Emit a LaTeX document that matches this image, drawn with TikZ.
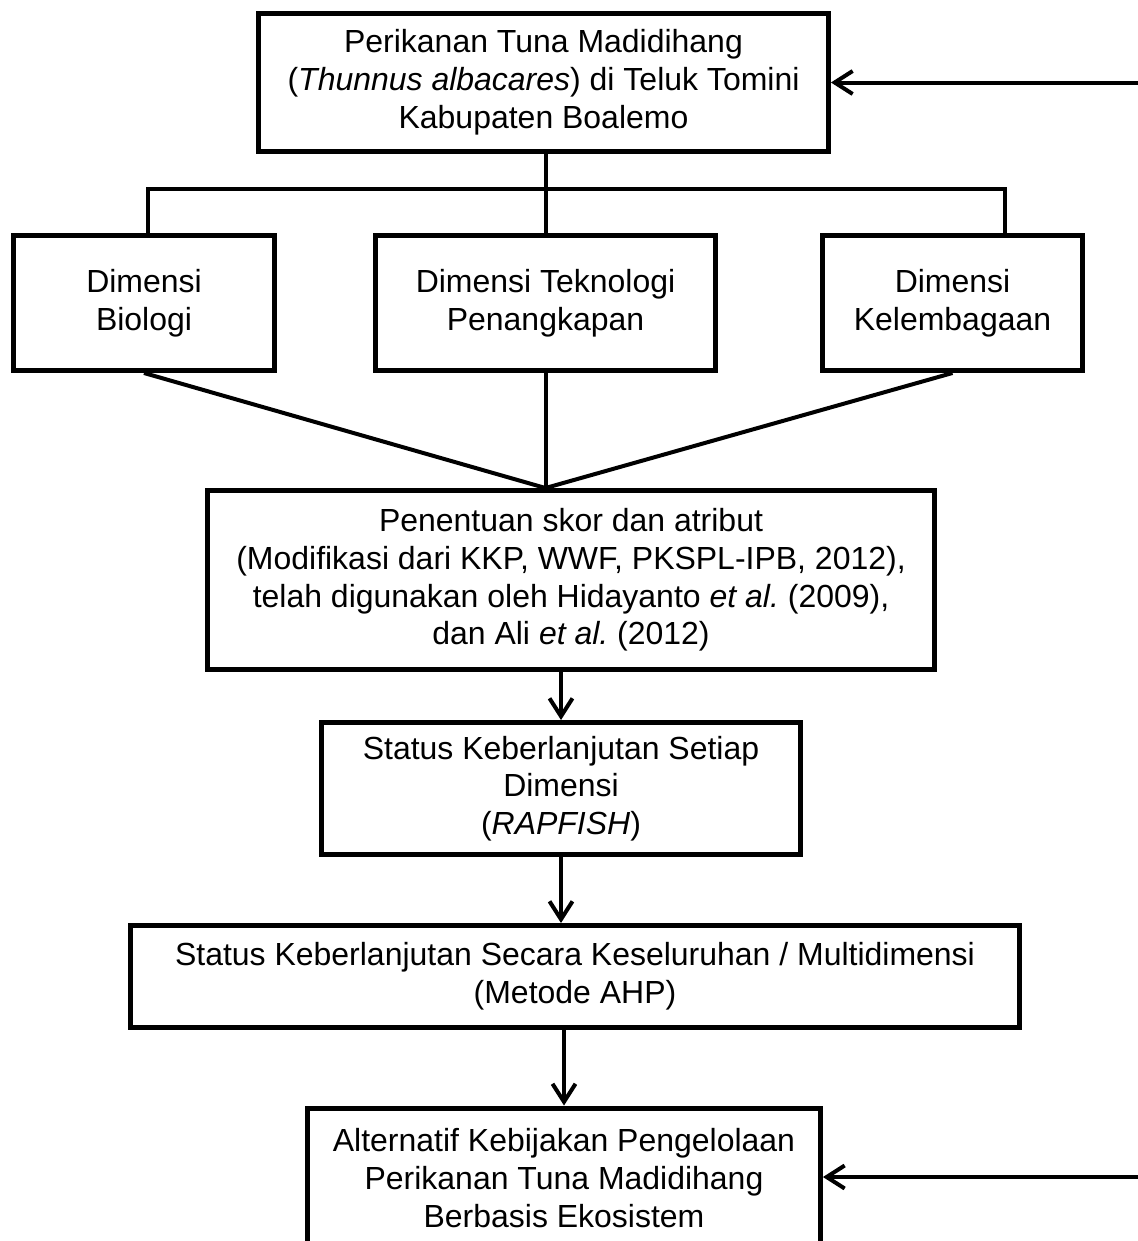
\documentclass[tikz,border=0pt]{standalone}
\usepackage{fontspec}
\setmainfont{Liberation Sans}
\frenchspacing
\usetikzlibrary{arrows.meta, positioning, calc}

\tikzset{
  box/.style={draw, line width=0.1cm, inner sep=0pt, align=center,
    font=\fontsize{18.2pt}{21.5pt}\selectfont},
  link/.style={line width=0.08cm},
  arr/.style={line width=0.08cm, -{Straight Barb[length=0.36cm, width=0.46cm]}},
}

\begin{document}
\begin{tikzpicture}[x=0.02cm, y=-0.02cm]
	\useasboundingbox (0,0) rectangle (1138,1241);
	\clip (0,0) rectangle (1138,1241);

	% Define the nodes (boxes)
	\node[box, minimum width=11.4cm, minimum height=2.76cm] (fishery) at (543.5,82.5)
		{Perikanan Tuna Madidihang\\(\textit{Thunnus albacares}) di Teluk Tomini\\Kabupaten Boalemo};
	\node[box, minimum width=5.22cm, minimum height=2.7cm] (bio) at (144,303) {Dimensi\\Biologi};
	\node[box, minimum width=6.8cm, minimum height=2.7cm] (tech) at (545.5,303) {Dimensi Teknologi\\Penangkapan};
	\node[box, minimum width=5.2cm, minimum height=2.7cm] (inst) at (952.5,303) {Dimensi\\Kelembagaan};
	\node[box, minimum width=14.54cm, minimum height=3.58cm] (score) at (571,580)
		{Penentuan skor dan atribut\\(Modifikasi dari KKP, WWF, PKSPL-IPB, 2012),\\telah digunakan oleh Hidayanto \textit{et al.} (2009),\\dan Ali \textit{et al.} (2012)};
	\node[box, minimum width=9.58cm, minimum height=2.64cm] (rapfish) at (561,788.5)
		{Status Keberlanjutan Setiap\\Dimensi\\(\textit{RAPFISH})};
	\node[box, minimum width=17.78cm, minimum height=2.04cm] (ahp) at (575,976.5)
		{Status Keberlanjutan Secara Keseluruhan / Multidimensi\\(Metode AHP)};
	\node[box, minimum width=10.26cm, minimum height=2.8cm] (policy) at (564,1178)
		{Alternatif Kebijakan Pengelolaan\\Perikanan Tuna Madidihang\\Berbasis Ekosistem};

	% Free ends and joints
	\coordinate (fromRight1) at (1140,82.5);
	\coordinate (fromRight2) at (1140,1177);
	\coordinate (branchL) at (148,189);
	\coordinate (branchR) at (1005,189);
	\coordinate (meet) at (tech.south |- score.north);

	% Define the connections
	\draw[link] (tech.north |- fishery.south) -- (tech.north);
	\draw[link] (branchL |- bio.north) -- (branchL) -- (branchR) -- (branchR |- inst.north);
	\draw[link] (bio.south) -- (meet);
	\draw[link] (tech.south) -- (meet);
	\draw[link] (inst.south) -- (meet);
	\draw[arr] (score.south -| rapfish.north) -- (rapfish.north);
	\draw[arr] (rapfish.south) -- (rapfish.south |- ahp.north);
	\draw[arr] (policy.north |- ahp.south) -- (policy.north);
	\draw[arr] (fromRight1) -- (fishery.east);
	\draw[arr] (fromRight2) -- (fromRight2 -| policy.east);
\end{tikzpicture}
\end{document}
